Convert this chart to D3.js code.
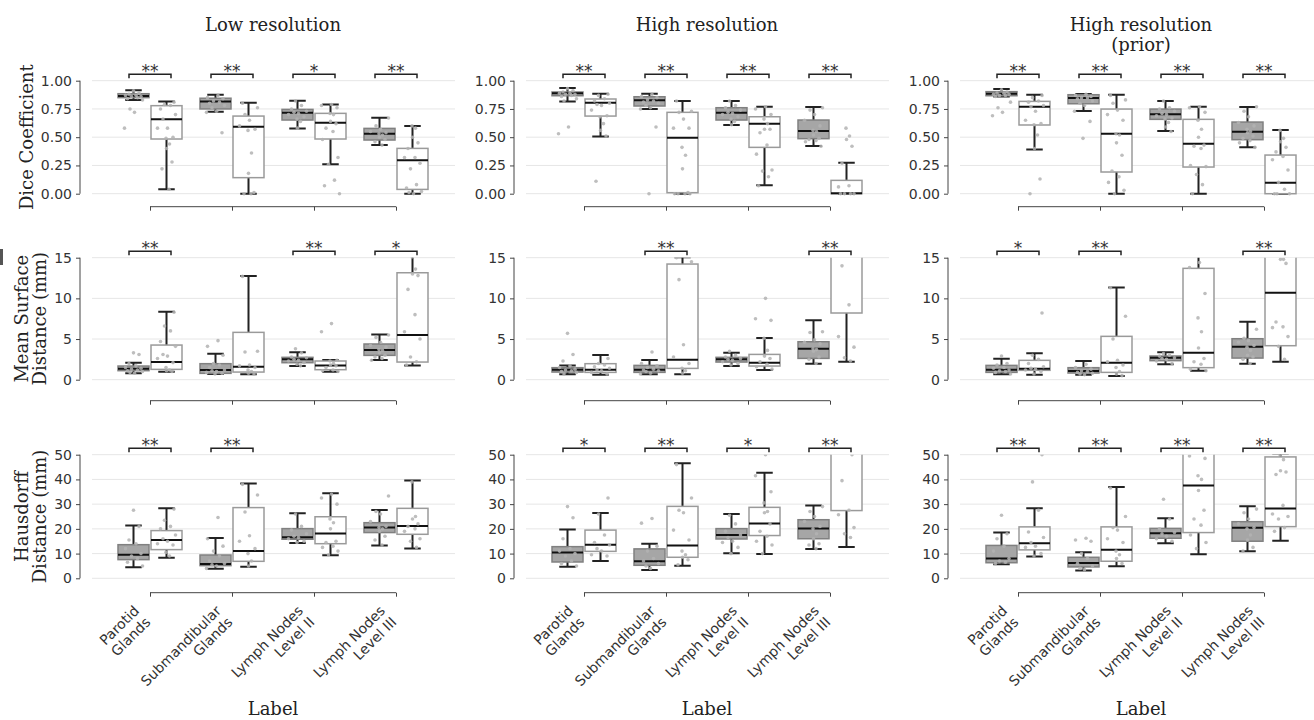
<!DOCTYPE html>
<html>
<head>
<meta charset="utf-8">
<script src="https://cdn.jsdelivr.net/npm/d3@7"></script>
<style>
  body { margin: 0; background: #fff; }
  svg { display: block; }
</style>
</head>
<body>
<svg id="chart" width="1314" height="720"></svg>
<script>
// Categories, panels and ticks
const categories = ["Parotid\nGlands", "Submandibular\nGlands", "Lymph Nodes\nLevel II", "Lymph Nodes\nLevel III"];
const columnTitles = ["Low resolution", "High resolution", "High resolution\n(prior)"];
const metricLabels = ["Dice Coefficient", "Mean Surface\nDistance (mm)", "Hausdorff\nDistance (mm)"];
const diceTicks = [0, 0.25, 0.5, 0.75, 1];
const msdTicks = [0, 5, 10, 15];
const hdTicks = [0, 10, 20, 30, 40, 50];

// box stats per category: [gray, white], each [low whisker, q1, median, q3, high whisker]
const diceLowBoxes = [
  [[0.83, 0.85, 0.865, 0.885, 0.915], [0.04, 0.484, 0.658, 0.779, 0.817]],
  [[0.726, 0.75, 0.815, 0.845, 0.876], [0, 0.142, 0.593, 0.687, 0.805]],
  [[0.578, 0.652, 0.717, 0.746, 0.823], [0.26, 0.484, 0.628, 0.711, 0.79]],
  [[0.43, 0.475, 0.531, 0.578, 0.673], [0, 0.038, 0.295, 0.401, 0.599]]
];
const diceHighBoxes = [
  [[0.817, 0.867, 0.888, 0.90, 0.935], [0.507, 0.687, 0.805, 0.838, 0.885]],
  [[0.749, 0.776, 0.826, 0.858, 0.885], [0, 0.009, 0.496, 0.72, 0.82]],
  [[0.608, 0.652, 0.717, 0.761, 0.82], [0.074, 0.41, 0.619, 0.681, 0.77]],
  [[0.422, 0.487, 0.555, 0.652, 0.767], [0, 0, 0.003, 0.118, 0.274]]
];
const dicePriorBoxes = [
  [[0.86, 0.867, 0.885, 0.903, 0.926], [0.392, 0.608, 0.77, 0.817, 0.876]],
  [[0.732, 0.796, 0.847, 0.876, 0.882], [0, 0.192, 0.531, 0.749, 0.876]],
  [[0.555, 0.658, 0.702, 0.749, 0.82], [0, 0.236, 0.442, 0.658, 0.77]],
  [[0.41, 0.478, 0.549, 0.634, 0.767], [0, 0, 0.097, 0.342, 0.563]]
];
const msdLowBoxes = [
  [[0.78, 1.11, 1.35, 1.68, 2.09], [0.98, 1.27, 2.17, 4.26, 8.36]],
  [[0.70, 0.78, 1.19, 1.97, 3.2], [0.66, 0.94, 1.6, 5.82, 12.75]],
  [[1.68, 2.09, 2.5, 2.75, 3.36], [0.98, 1.23, 1.76, 2.3, 2.42]],
  [[2.42, 2.99, 3.65, 4.39, 5.57], [1.76, 2.17, 5.49, 13.15, 15.2]]
];
const msdHighBoxes = [
  [[0.66, 0.94, 1.23, 1.48, 1.76], [0.61, 0.9, 1.23, 1.97, 3.03]],
  [[0.66, 0.9, 1.23, 1.76, 2.42], [0.66, 1.39, 2.46, 14.22, 15.04]],
  [[1.68, 2.17, 2.5, 2.75, 3.32], [1.19, 1.68, 2.09, 3.11, 5.12]],
  [[1.97, 2.62, 3.81, 4.67, 7.3], [2.21, 8.2, 16.5, 20.0, 25.0]]
];
const msdPriorBoxes = [
  [[0.66, 0.9, 1.23, 1.76, 2.58], [0.61, 1.15, 1.35, 2.38, 3.24]],
  [[0.61, 0.82, 1.07, 1.48, 2.3], [0.45, 0.9, 2.09, 5.33, 11.35]],
  [[1.89, 2.34, 2.7, 2.91, 3.36], [1.11, 1.48, 3.32, 13.69, 17.0]],
  [[1.97, 2.66, 4.06, 5.04, 7.13], [2.21, 4.18, 10.7, 18.0, 24.0]]
];
const hdLowBoxes = [
  [[4.45, 7.55, 9.57, 13.6, 21.4], [8.36, 11.6, 15.5, 19.3, 28.3]],
  [[3.91, 5.12, 5.8, 9.43, 16.3], [4.72, 6.87, 11.05, 28.6, 38.3]],
  [[14.3, 15.8, 16.6, 20.1, 26.3], [9.3, 14.0, 18.1, 24.9, 34.4]],
  [[13.3, 18.5, 20.6, 22.5, 27.6], [12.1, 17.8, 21.2, 28.3, 39.6]]
];
const hdHighBoxes = [
  [[4.7, 6.6, 10.4, 12.8, 19.7], [7.0, 10.9, 13.6, 19.5, 26.4]],
  [[3.37, 5.26, 6.87, 11.9, 14.0], [5.1, 8.5, 13.3, 29.1, 46.5]],
  [[10.1, 15.9, 17.5, 20.1, 26.0], [9.8, 17.3, 22.2, 28.7, 42.7]],
  [[11.9, 16.0, 20.1, 23.7, 29.4], [12.7, 27.4, 52.0, 60.0, 70.0]]
];
const hdPriorBoxes = [
  [[5.7, 6.3, 8.0, 13.3, 18.5], [8.8, 11.5, 14.2, 20.8, 28.3]],
  [[3.2, 4.6, 6.2, 8.5, 10.5], [4.9, 6.9, 11.5, 20.8, 36.9]],
  [[14.2, 16.2, 18.2, 20.2, 24.3], [9.7, 18.5, 37.5, 52.0, 60.0]],
  [[10.9, 15.0, 20.4, 22.9, 29.1], [15.2, 20.9, 28.2, 49.1, 50.3]]
];

// individual cases per category: [gray, white]
const diceLowPoints = [
  [[0.91, 0.89, 0.88, 0.87, 0.87, 0.86, 0.86, 0.85, 0.84, 0.83, 0.75, 0.72, 0.58], [0.81, 0.79, 0.78, 0.75, 0.70, 0.66, 0.58, 0.58, 0.50, 0.49, 0.44, 0.40, 0.28, 0.22, 0.04]],
  [[0.87, 0.85, 0.84, 0.82, 0.81, 0.80, 0.78, 0.76, 0.73, 0.72, 0.54], [0.80, 0.76, 0.70, 0.65, 0.60, 0.57, 0.56, 0.36, 0.18, 0.01, 0.0, 0.0]],
  [[0.82, 0.78, 0.75, 0.73, 0.72, 0.71, 0.70, 0.68, 0.66, 0.64, 0.58], [0.79, 0.78, 0.76, 0.71, 0.70, 0.64, 0.62, 0.58, 0.55, 0.48, 0.32, 0.26, 0.12, 0.07, 0.0]],
  [[0.67, 0.60, 0.57, 0.55, 0.54, 0.53, 0.52, 0.50, 0.48, 0.46, 0.43], [0.60, 0.58, 0.50, 0.45, 0.40, 0.32, 0.32, 0.27, 0.22, 0.08, 0.05, 0.02, 0.01, 0.0]]
];
const diceHighPoints = [
  [[0.93, 0.91, 0.90, 0.89, 0.89, 0.88, 0.88, 0.87, 0.86, 0.84, 0.82, 0.59, 0.53], [0.88, 0.87, 0.84, 0.82, 0.80, 0.79, 0.78, 0.74, 0.69, 0.68, 0.62, 0.56, 0.51, 0.11]],
  [[0.88, 0.86, 0.85, 0.83, 0.82, 0.81, 0.80, 0.78, 0.76, 0.75, 0.59, 0.0], [0.82, 0.73, 0.72, 0.66, 0.58, 0.58, 0.41, 0.34, 0.22, 0.01, 0.0, 0.0, 0.0, 0.0]],
  [[0.82, 0.78, 0.76, 0.74, 0.72, 0.71, 0.70, 0.68, 0.66, 0.64, 0.61], [0.77, 0.75, 0.70, 0.66, 0.62, 0.57, 0.57, 0.54, 0.43, 0.35, 0.21, 0.20, 0.15, 0.07]],
  [[0.76, 0.74, 0.70, 0.65, 0.60, 0.56, 0.55, 0.52, 0.49, 0.48, 0.47, 0.46, 0.42], [0.58, 0.51, 0.48, 0.42, 0.27, 0.07, 0.06, 0.0, 0.0, 0.0, 0.0]]
];
const dicePriorPoints = [
  [[0.92, 0.90, 0.89, 0.89, 0.88, 0.88, 0.87, 0.87, 0.86, 0.81, 0.76, 0.72, 0.69], [0.87, 0.85, 0.82, 0.81, 0.78, 0.77, 0.73, 0.65, 0.62, 0.61, 0.52, 0.40, 0.13, 0.0]],
  [[0.88, 0.87, 0.86, 0.85, 0.85, 0.84, 0.82, 0.80, 0.78, 0.73, 0.64, 0.49], [0.87, 0.83, 0.80, 0.74, 0.70, 0.65, 0.53, 0.52, 0.45, 0.34, 0.20, 0.15, 0.10, 0.03, 0.0]],
  [[0.82, 0.76, 0.75, 0.73, 0.71, 0.70, 0.69, 0.67, 0.66, 0.63, 0.59, 0.55], [0.77, 0.76, 0.72, 0.65, 0.57, 0.50, 0.43, 0.42, 0.40, 0.25, 0.24, 0.17, 0.08, 0.0]],
  [[0.77, 0.73, 0.68, 0.63, 0.60, 0.57, 0.55, 0.54, 0.51, 0.49, 0.47, 0.45, 0.41], [0.56, 0.49, 0.46, 0.41, 0.37, 0.33, 0.30, 0.21, 0.10, 0.04, 0.0, 0.0, 0.0]]
];
const msdLowPoints = [
  [[3.3, 3.1, 2.0, 1.7, 1.5, 1.4, 1.3, 1.2, 1.1, 1.0, 0.9, 0.8], [8.3, 6.6, 6.0, 4.7, 4.1, 3.1, 2.9, 2.6, 2.1, 1.5, 1.2, 1.1, 1.0]],
  [[4.8, 4.1, 3.0, 2.0, 1.8, 1.5, 1.2, 1.1, 1.0, 0.9, 0.8, 0.7], [12.7, 3.5, 3.4, 1.8, 1.7, 1.5, 1.2, 1.0, 0.8, 0.7]],
  [[3.8, 3.3, 2.8, 2.7, 2.5, 2.4, 2.3, 2.1, 1.9, 1.7], [6.9, 5.9, 2.4, 2.3, 2.0, 1.8, 1.7, 1.5, 1.2, 1.1, 1.0]],
  [[5.5, 5.2, 4.6, 4.2, 4.0, 3.7, 3.6, 3.3, 3.0, 2.8, 2.6, 2.4], [15.1, 13.6, 13.0, 12.8, 11.1, 8.0, 5.9, 5.0, 2.8, 2.2, 1.8]]
];
const msdHighPoints = [
  [[5.7, 3.1, 2.3, 1.7, 1.5, 1.3, 1.2, 1.1, 1.0, 0.9, 0.7], [2.6, 2.0, 1.8, 1.6, 1.4, 1.2, 1.1, 0.9, 0.7]],
  [[3.4, 2.0, 1.7, 1.5, 1.3, 1.2, 1.1, 1.0, 0.8, 0.7], [15.0, 14.5, 12.3, 4.3, 2.8, 2.0, 1.4, 1.1, 0.8]],
  [[3.5, 3.0, 2.8, 2.6, 2.5, 2.4, 2.2, 2.0, 1.8], [10.0, 7.5, 7.3, 5.1, 3.6, 2.9, 2.6, 2.2, 1.9, 1.6, 1.3]],
  [[5.9, 5.8, 4.9, 4.6, 4.4, 3.8, 3.7, 3.5, 2.8, 2.5, 2.0], [24.0, 21.0, 18.0, 16.5, 14.0, 9.2, 5.3, 4.0, 2.7, 2.3]]
];
const msdPriorPoints = [
  [[2.9, 2.0, 1.8, 1.5, 1.4, 1.2, 1.1, 1.0, 0.9, 0.7], [8.2, 3.0, 2.5, 2.0, 1.6, 1.4, 1.3, 1.2, 1.0, 0.7]],
  [[1.9, 1.5, 1.3, 1.1, 1.0, 0.9, 0.8, 0.7, 0.6], [11.3, 7.8, 5.0, 2.4, 2.2, 1.8, 1.5, 1.0, 0.7, 0.5]],
  [[3.2, 3.0, 2.9, 2.7, 2.6, 2.5, 2.3, 2.0], [14.4, 13.8, 10.6, 7.6, 5.9, 3.9, 2.6, 2.2, 1.9, 1.3, 1.1]],
  [[6.2, 5.1, 4.8, 4.6, 4.2, 4.0, 3.6, 3.0, 2.8, 2.5, 2.0], [20.0, 14.8, 14.8, 14.3, 7.1, 6.5, 6.4, 5.3, 4.1, 2.5]]
];
const hdLowPoints = [
  [[27.5, 21.0, 15.5, 14.0, 12.0, 10.0, 9.0, 8.0, 6.5, 5.0], [28.0, 23.5, 21.0, 20.0, 17.5, 16.0, 15.0, 14.0, 13.5, 10.5, 9.0]],
  [[24.6, 16.0, 13.0, 11.0, 9.0, 7.0, 6.0, 5.5, 5.0, 4.0], [38.0, 33.7, 26.8, 17.2, 15.0, 12.0, 10.0, 7.0, 5.0]],
  [[26.0, 21.0, 19.5, 18.0, 17.0, 16.5, 16.0, 15.0, 14.5], [34.0, 32.5, 30.0, 24.0, 22.5, 20.0, 15.0, 14.5, 13.0, 12.5, 11.0, 9.5]],
  [[33.3, 27.0, 26.0, 23.0, 21.0, 20.5, 20.0, 19.0, 17.0, 15.5, 13.5], [39.0, 25.0, 24.0, 22.0, 21.0, 20.0, 19.0, 16.0, 15.0, 12.5]]
];
const hdHighPoints = [
  [[29.0, 24.5, 16.0, 12.0, 11.0, 10.0, 9.0, 7.0, 6.0, 5.0], [32.5, 26.0, 17.5, 14.5, 13.5, 12.0, 11.0, 9.5, 9.0]],
  [[24.2, 22.3, 13.0, 11.0, 8.0, 7.0, 6.0, 5.0, 4.0], [46.0, 32.5, 27.5, 26.5, 19.5, 15.5, 11.0, 9.5, 8.5, 7.5, 5.5]],
  [[25.5, 22.0, 19.0, 17.5, 16.5, 15.0, 14.5, 12.5, 10.0], [50.0, 41.5, 35.0, 30.5, 27.0, 26.5, 22.0, 19.0, 17.0, 15.0, 13.5, 10.0]],
  [[29.0, 27.0, 25.0, 23.0, 21.0, 20.0, 18.0, 16.0, 14.0, 13.5, 12.0], [65.0, 55.0, 52.0, 50.0, 39.5, 27.5, 25.7, 20.5, 18.0, 16.5]]
];
const hdPriorPoints = [
  [[25.5, 18.0, 16.0, 13.0, 11.0, 8.0, 7.0, 6.5, 6.0], [50.0, 39.0, 27.5, 18.7, 16.5, 14.5, 13.0, 12.5, 10.0, 9.0]],
  [[16.2, 15.5, 15.0, 10.0, 8.0, 6.0, 5.0, 4.0, 3.5], [36.5, 25.0, 20.5, 19.5, 16.0, 14.5, 11.0, 9.5, 8.0, 6.0]],
  [[32.0, 24.0, 20.0, 18.5, 18.0, 17.0, 16.0, 15.0], [55.0, 49.5, 48.5, 41.5, 40.0, 35.5, 27.5, 24.0, 21.5, 17.5, 14.5, 12.0]],
  [[28.0, 26.5, 24.0, 22.0, 20.5, 20.0, 17.5, 15.5, 12.5, 11.0], [50.0, 48.0, 43.5, 43.0, 42.0, 29.5, 26.0, 25.0, 24.0, 20.5, 19.0]]
];

// significance stars per category
const diceLowStars = ["**", "**", "*", "**"];
const diceHighStars = ["**", "**", "**", "**"];
const dicePriorStars = ["**", "**", "**", "**"];
const msdLowStars = ["**", "", "**", "*"];
const msdHighStars = ["", "**", "", "**"];
const msdPriorStars = ["*", "**", "", "**"];
const hdLowStars = ["**", "**", "", ""];
const hdHighStars = ["*", "**", "*", "**"];
const hdPriorStars = ["**", "**", "**", "**"];

const svg = d3.select("#chart");
const serif = "DejaVu Serif, serif";
const sans = "DejaVu Sans, sans-serif";

// row layout (pixel positions of top tick, zero and bottom spine)
const rows = [
  { ticks: diceTicks, fmt: d3.format(".2f"), top: 80.7, zero: 193.7, spine: 206.7, label: metricLabels[0],
    boxes: [diceLowBoxes, diceHighBoxes, dicePriorBoxes], points: [diceLowPoints, diceHighPoints, dicePriorPoints],
    stars: [diceLowStars, diceHighStars, dicePriorStars] },
  { ticks: msdTicks, fmt: d3.format("d"), top: 257.7, zero: 379.7, spine: 400.7, label: metricLabels[1],
    boxes: [msdLowBoxes, msdHighBoxes, msdPriorBoxes], points: [msdLowPoints, msdHighPoints, msdPriorPoints],
    stars: [msdLowStars, msdHighStars, msdPriorStars] },
  { ticks: hdTicks, fmt: d3.format("d"), top: 454.7, zero: 578.3, spine: 592.7, label: metricLabels[2],
    boxes: [hdLowBoxes, hdHighBoxes, hdPriorBoxes], points: [hdLowPoints, hdHighPoints, hdPriorPoints],
    stars: [hdLowStars, hdHighStars, hdPriorStars] }
];

const colX0 = c => 92 + 434 * c;
const axW = 363;
const boxW = 33;
const hueOffset = d3.scaleBand().domain([0, 1]).range([-boxW, boxW]);
const jitter = [0, 0.55, -0.45, 0.25, -0.8, 0.75, -0.2, 0.4, -0.6, 0.9, -0.35, 0.1, -0.9, 0.65, -0.05, 0.3];
const fills = ["#a6a6a6", "#ffffff"];
const edges = ["#808080", "#9a9a9a"];

// little mark at left edge
svg.append("rect").attr("x", 0).attr("y", 249).attr("width", 3).attr("height", 16).attr("fill", "#555");

const defs = svg.append("defs");

rows.forEach((row, r) => {
  const y = d3.scaleLinear()
    .domain([0, d3.max(row.ticks)])
    .range([row.zero, row.top]);

  // y label
  const yl = svg.append("text")
    .attr("transform", `translate(${r === 0 ? 33 : 28}, ${(row.zero + row.top) / 2}) rotate(-90)`)
    .attr("text-anchor", "middle")
    .style("font-family", serif).style("font-size", "18px").attr("fill", "#222");
  row.label.split("\n").forEach((t, i) => {
    yl.append("tspan").attr("x", 0).attr("y", i * 18).text(t);
  });

  columnTitles.forEach((title, c) => {
    const x0 = colX0(c);
    const x = d3.scalePoint().domain(categories).range([x0 + 58, x0 + 304]);
    const g = svg.append("g");

    // gridlines
    g.selectAll(".grid").data(row.ticks).enter().append("line")
      .attr("x1", x0).attr("x2", x0 + axW)
      .attr("y1", d => y(d)).attr("y2", d => y(d))
      .attr("stroke", "#e6e6e6").attr("stroke-width", 1);

    // y axis (offset, trimmed)
    const yAxis = d3.axisLeft(y).tickValues(row.ticks).tickFormat(row.fmt).tickSize(4).tickPadding(4);
    const ya = g.append("g").attr("transform", `translate(${x0 - 12},0)`).call(yAxis);
    ya.select(".domain").attr("d", `M0,${y(0)}V${y(d3.max(row.ticks))}`).attr("stroke", "#444");
    ya.selectAll(".tick line").attr("stroke", "#444");
    ya.selectAll(".tick text").style("font-family", sans).style("font-size", "14px").attr("fill", "#333");

    // x axis (offset, trimmed)
    const xAxis = d3.axisBottom(x).tickSize(4).tickFormat("");
    const xa = g.append("g").attr("transform", `translate(0,${row.spine})`).call(xAxis);
    xa.select(".domain").attr("d", `M${x(categories[0])},0H${x(categories[3])}`).attr("stroke", "#444");
    xa.selectAll(".tick line").attr("stroke", "#444");

    // clipped plot area
    const clipId = `clip-${r}-${c}`;
    defs.append("clipPath").attr("id", clipId).append("rect")
      .attr("x", x0).attr("y", row.top).attr("width", axW).attr("height", row.spine - row.top);
    const plot = g.append("g").attr("clip-path", `url(#${clipId})`);

    categories.forEach((cat, k) => {
      [0, 1].forEach(h => {
        const s = row.boxes[c][k][h];
        const cx = x(cat) + hueOffset(h) + boxW / 2;
        const bg = plot.append("g");
        // whiskers
        bg.append("line").attr("x1", cx).attr("x2", cx).attr("y1", y(s[0])).attr("y2", y(s[1]))
          .attr("stroke", "#222").attr("stroke-width", 2);
        bg.append("line").attr("x1", cx).attr("x2", cx).attr("y1", y(s[3])).attr("y2", y(s[4]))
          .attr("stroke", "#222").attr("stroke-width", 2);
        // caps
        [s[0], s[4]].forEach(v => {
          bg.append("line").attr("x1", cx - boxW / 4).attr("x2", cx + boxW / 4)
            .attr("y1", y(v)).attr("y2", y(v)).attr("stroke", "#222").attr("stroke-width", 2);
        });
        // box
        bg.append("rect").attr("x", cx - boxW / 2 + 1).attr("width", boxW - 2)
          .attr("y", y(s[3])).attr("height", Math.max(0.5, y(s[1]) - y(s[3])))
          .attr("fill", fills[h]).attr("stroke", edges[h]).attr("stroke-width", 1.5);
        // median
        bg.append("line").attr("x1", cx - boxW / 2 + 1).attr("x2", cx + boxW / 2 - 1)
          .attr("y1", y(s[2])).attr("y2", y(s[2])).attr("stroke", "#111").attr("stroke-width", 2);
      });
    });

    // points
    categories.forEach((cat, k) => {
      [0, 1].forEach(h => {
        const cx = x(cat) + hueOffset(h) + boxW / 2;
        plot.append("g").selectAll("circle").data(row.points[c][k][h]).enter().append("circle")
          .attr("cx", (d, i) => cx + jitter[(i + k * 3 + h * 5) % jitter.length] * 10)
          .attr("cy", d => y(d))
          .attr("r", 1.8)
          .attr("fill", "#b3b3b3").attr("opacity", 0.85);
      });
    });

    // significance brackets
    categories.forEach((cat, k) => {
      const st = row.stars[c][k];
      if (!st) return;
      const cx = x(cat);
      const by = row.top - 6.5;
      g.append("path")
        .attr("d", `M${cx - 21},${by + 4}V${by}H${cx + 21}V${by + 4}`)
        .attr("fill", "none").attr("stroke", "#222").attr("stroke-width", 1.5);
      g.append("text").attr("x", cx).attr("y", by + 2.5)
        .attr("text-anchor", "middle")
        .style("font-family", sans).style("font-size", "17px").attr("fill", "#333")
        .text(st);
    });

    // column titles
    if (r === 0) {
      const tt = svg.append("text").attr("x", x0 + 181).attr("y", 31)
        .attr("text-anchor", "middle")
        .style("font-family", serif).style("font-size", "18px").attr("fill", "#222");
      title.split("\n").forEach((t, i) => {
        tt.append("tspan").attr("x", x0 + 181).attr("y", 31 + i * 20).text(t);
      });
    }

    // category labels + x label on bottom row
    if (r === rows.length - 1) {
      categories.forEach(cat => {
        const lt = g.append("text")
          .attr("transform", `translate(${x(cat) - 10},${row.spine + 19}) rotate(-45)`)
          .attr("text-anchor", "end")
          .style("font-family", sans).style("font-size", "14px").attr("fill", "#333");
        cat.split("\n").forEach((t, i) => {
          lt.append("tspan").attr("x", 0).attr("y", i * 16).text(t);
        });
      });
      svg.append("text").attr("x", x0 + 181).attr("y", 715)
        .attr("text-anchor", "middle")
        .style("font-family", serif).style("font-size", "18px").attr("fill", "#222")
        .text("Label");
    }
  });
});
</script>
</body>
</html>
